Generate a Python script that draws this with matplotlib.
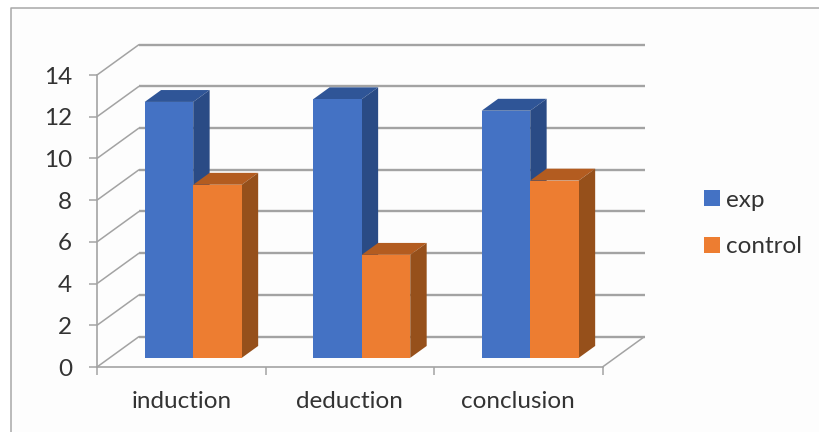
# grouped column chart drawn with a fake 3D look (oblique projection)
import numpy as np
import matplotlib
matplotlib.use("Agg")
import matplotlib.pyplot as plt
from matplotlib.patches import Patch, Rectangle

plt.rcParams['font.family'] = ['Lato', 'DejaVu Sans']

# data
categories = ['induction', 'deduction', 'conclusion']
exp_values = [12.27, 12.4, 11.85]
control_values = [8.3, 4.94, 8.5]
y_ticks = [0, 2, 4, 6, 8, 10, 12, 14]

# colours: front, top, side
exp_colors = ['#4472C4', '#2F5597', '#2A4B85']
control_colors = ['#ED7D31', '#B35C20', '#96501B']
grid_color = '#A3A3A3'
text_color = '#333333'

# how far the back wall is shifted from the front plane, in data units
depth_x = 0.25
depth_y = 1.462
bar_width = 0.288
bar_margin = 0.208
bar_depth_start = 0.30
bar_depth_end = 0.69

fig = plt.figure(figsize=(8.19, 4.32), dpi=100, facecolor='#FDFDFD')
ax = fig.add_axes([97 / 819, 65 / 432, 505.5 / 819, 292 / 432])
ax.set_xlim(0, 3)
ax.set_ylim(0, 14)
ax.patch.set_visible(False)


# project a point at depth d (0 = front, 1 = back wall)
def proj(x, y, d):
    return x + d * depth_x, y + d * depth_y


def line3d(p1, p2, lw):
    x1, y1 = proj(*p1)
    x2, y2 = proj(*p2)
    ax.plot([x1, x2], [y1, y2], color=grid_color, lw=lw, clip_on=False,
            solid_capstyle='butt', zorder=1)


def face(points, color):
    xs, ys = zip(*[proj(*p) for p in points])
    ax.fill(xs, ys, color=color, lw=0, clip_on=False, zorder=3)


def bar3d(x, h, colors):
    x2 = x + bar_width
    d1 = bar_depth_start
    d2 = bar_depth_end
    face([(x, h, d1), (x2, h, d1), (x2, h, d2), (x, h, d2)], colors[1])
    face([(x2, 0, d1), (x2, 0, d2), (x2, h, d2), (x2, h, d1)], colors[2])
    face([(x, 0, d1), (x2, 0, d1), (x2, h, d1), (x, h, d1)], colors[0])


# side wall and back wall gridlines
for t in y_ticks:
    line3d((0, t, 0), (0, t, 1), 1.1)
    line3d((0, t, 1), (3, t, 1), 1.7)
# right edge of the floor
line3d((3, 0, 0), (3, 0, 1), 1.1)

# columns
for i in range(len(categories)):
    left = i + bar_margin
    bar3d(left, exp_values[i], exp_colors)
    bar3d(left + bar_width, control_values[i], control_colors)

# axes on the front plane
for side in ['top', 'right']:
    ax.spines[side].set_visible(False)
for side in ['left', 'bottom']:
    ax.spines[side].set_color(grid_color)
    ax.spines[side].set_linewidth(1.2)

ax.set_yticks(y_ticks)
ax.set_xticks(range(len(categories) + 1))
ax.set_xticklabels([])
ax.set_xticks(np.arange(len(categories)) + 0.5, labels=categories, minor=True)
ax.tick_params(axis='y', length=6, width=1.1, color=grid_color,
               labelcolor=text_color, labelsize=17.5, pad=12)
ax.tick_params(axis='x', which='major', length=6, width=1.1, color=grid_color)
ax.tick_params(axis='x', which='minor', length=0, labelcolor=text_color,
               labelsize=17.5, pad=17)

# legend
handles = [Patch(facecolor=exp_colors[0], label='exp'),
           Patch(facecolor=control_colors[0], label='control')]
fig.legend(handles=handles, loc='upper left', bbox_to_anchor=(694 / 819, 1 - 180 / 432),
           frameon=False, fontsize=17.5, labelcolor=text_color, handlelength=0.66,
           handleheight=0.66, handletextpad=0.25, labelspacing=1.05, borderpad=0.4,
           borderaxespad=0)

# outer frame: white margin, then a grey line on the left and top
fig.add_artist(Rectangle((0, 0), 11 / 819, 1, transform=fig.transFigure,
                         facecolor='white', edgecolor='none', zorder=-2))
fig.add_artist(Rectangle((0, 1 - 8 / 432), 1, 8 / 432, transform=fig.transFigure,
                         facecolor='white', edgecolor='none', zorder=-2))
fig.add_artist(plt.Line2D([11 / 819, 11 / 819, 1], [0, 1 - 8 / 432, 1 - 8 / 432],
                          transform=fig.transFigure, color='#A8A8A8', lw=1.1))

fig.savefig('out.png', dpi=100, facecolor=fig.get_facecolor())
